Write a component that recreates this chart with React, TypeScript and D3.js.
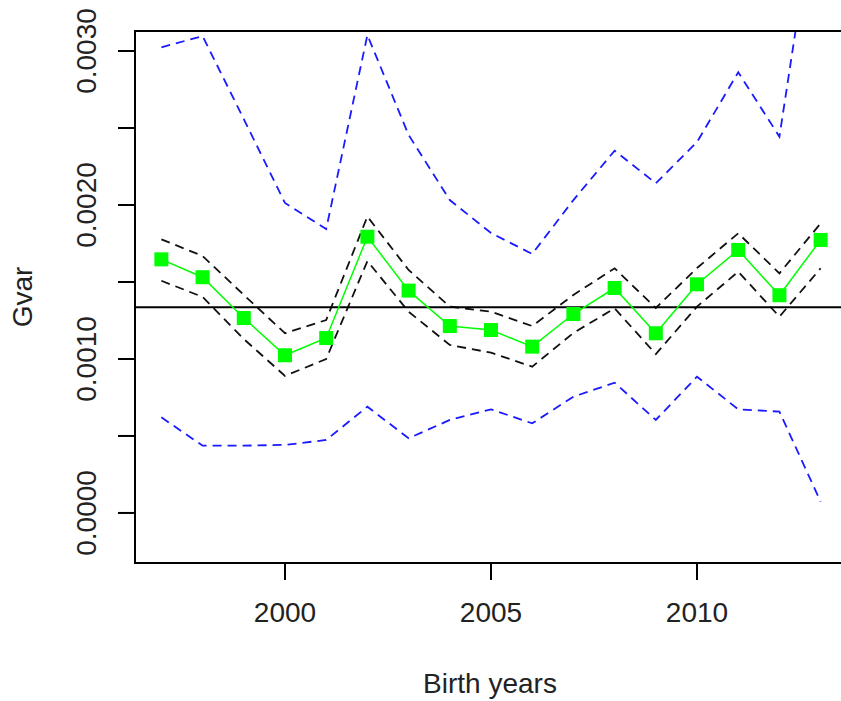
import { useMemo } from 'react'
import * as d3 from 'd3'

const years = [1997, 1998, 1999, 2000, 2001, 2002, 2003, 2004, 2005, 2006, 2007, 2008, 2009, 2010, 2011, 2012, 2013]

const gvar = [0.001647, 0.001531, 0.001266, 0.001024, 0.001136, 0.001794, 0.001444, 0.001214, 0.001188, 0.00108, 0.001292, 0.001461, 0.001167, 0.001485, 0.001708, 0.001414, 0.001773]
const ciUpper = [0.001777, 0.001669, 0.001416, 0.001167, 0.001253, 0.001925, 0.001578, 0.00134, 0.001307, 0.001214, 0.001416, 0.001589, 0.001331, 0.001591, 0.001816, 0.001556, 0.001881]
const ciLower = [0.001508, 0.001403, 0.00113, 0.00089, 0.001, 0.001636, 0.001307, 0.001091, 0.001041, 0.00095, 0.001169, 0.001329, 0.001032, 0.00134, 0.001567, 0.001275, 0.001589]
const bandUpper = [0.003024, 0.003097, 0.002558, 0.002013, 0.001844, 0.003104, 0.002455, 0.002032, 0.001818, 0.001682, 0.002032, 0.002353, 0.002141, 0.002409, 0.002862, 0.002444, 0.0042]
const bandLower = [0.000621, 0.000437, 0.000437, 0.000442, 0.000474, 0.00069, 0.000485, 0.000604, 0.000673, 0.000582, 0.000755, 0.000846, 0.000604, 0.000885, 0.000673, 0.000658, 0.000073]
const refLine = 0.001336

const xTicks = [2000, 2005, 2010]
const yTicks = [0, 0.0005, 0.001, 0.0015, 0.002, 0.0025, 0.003]
const yLabels = [0, 0.001, 0.002, 0.003]

const W = 841
const H = 701
const left = 135
const top = 31
const bottom = 563
const right = 847
const FONT = '"Liberation Sans", Arial, sans-serif'
const FS = 28

export default function App() {
  const x = useMemo(() => d3.scaleLinear().domain([1996.36, 2013.64]).range([left, right]), [])
  const y = useMemo(() => d3.scaleLinear().domain([-0.000325, 0.00313]).range([bottom, top]), [])

  const line = d3
    .line<number>()
    .x((_, i) => x(years[i]))
    .y((d) => y(d))

  return (
    <svg
      width={W}
      height={H}
      style={{ position: 'absolute', left: 0, top: 0, background: '#fff' }}
    >
      <defs>
        <clipPath id="plot">
          <rect x={left} y={top} width={right - left} height={bottom - top} />
        </clipPath>
      </defs>

      <g clipPath="url(#plot)">
        {/* outer band */}
        <path d={line(bandUpper) || ''} fill="none" stroke="#1a1aff" strokeWidth={1.8} strokeDasharray="9,6" />
        <path d={line(bandLower) || ''} fill="none" stroke="#1a1aff" strokeWidth={1.8} strokeDasharray="9,6" />

        {/* confidence interval */}
        <path d={line(ciUpper) || ''} fill="none" stroke="#111" strokeWidth={1.8} strokeDasharray="9,6" />
        <path d={line(ciLower) || ''} fill="none" stroke="#111" strokeWidth={1.8} strokeDasharray="9,6" />

        {/* mean line */}
        <line x1={left} x2={right} y1={y(refLine)} y2={y(refLine)} stroke="#000" strokeWidth={2} />

        {/* estimates */}
        <path d={line(gvar) || ''} fill="none" stroke="#00ff00" strokeWidth={1.5} />
        {gvar.map((d, i) => (
          <rect key={i} x={x(years[i]) - 7} y={y(d) - 7} width={14} height={14} fill="#00ff00" />
        ))}
      </g>

      {/* box */}
      <rect x={left} y={top} width={right - left} height={bottom - top} fill="none" stroke="#000" strokeWidth={2} />

      {/* x axis */}
      {xTicks.map((t) => (
        <g key={t}>
          <line x1={x(t)} x2={x(t)} y1={bottom} y2={bottom + 17} stroke="#000" strokeWidth={2} />
          <text x={x(t)} y={622} textAnchor="middle" fontFamily={FONT} fontSize={FS} fill="#222">
            {t}
          </text>
        </g>
      ))}

      {/* y axis */}
      {yTicks.map((t) => (
        <line key={t} x1={left - 17} x2={left} y1={y(t)} y2={y(t)} stroke="#000" strokeWidth={2} />
      ))}
      {yLabels.map((t) => (
        <text
          key={t}
          transform={`translate(96,${y(t)}) rotate(-90)`}
          textAnchor="middle"
          fontFamily={FONT}
          fontSize={FS}
          fill="#222"
        >
          {d3.format('.4f')(t)}
        </text>
      ))}

      <text x={490} y={693} textAnchor="middle" fontFamily={FONT} fontSize={FS} fill="#222">
        Birth years
      </text>
      <text transform="translate(32,297) rotate(-90)" textAnchor="middle" fontFamily={FONT} fontSize={FS} fill="#222">
        Gvar
      </text>
    </svg>
  )
}
